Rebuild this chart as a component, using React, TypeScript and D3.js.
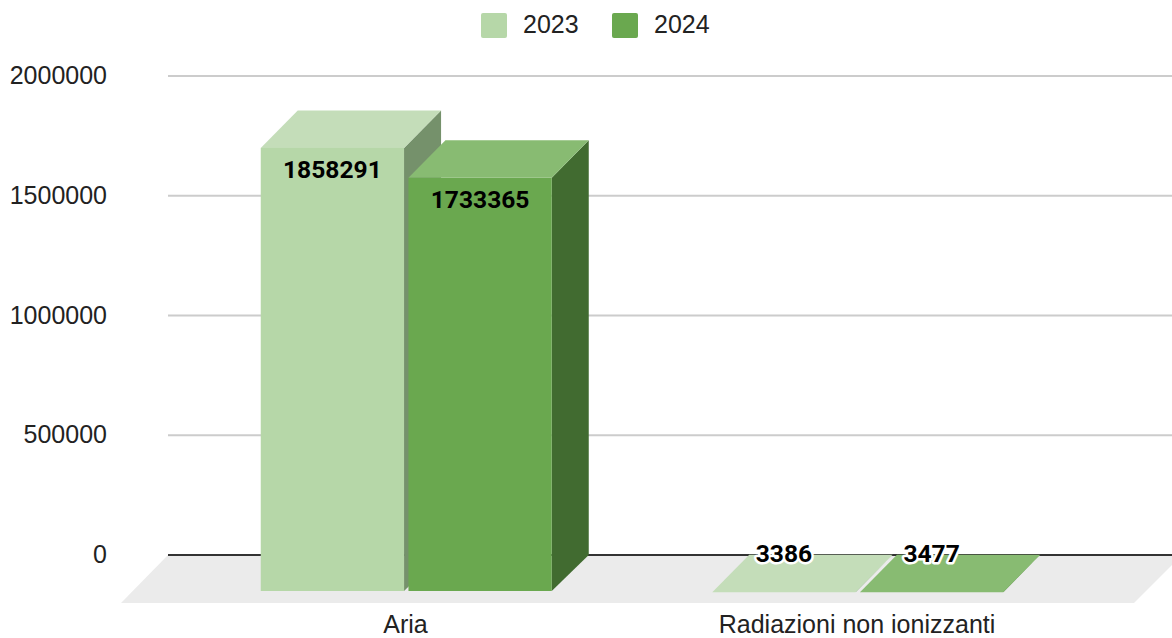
import React from "react";
import * as d3 from "d3";

const categories = ["Aria", "Radiazioni non ionizzanti"];
const seriesNames = ["2023", "2024"];
const values2023 = [1858291, 3386];
const values2024 = [1733365, 3477];
const yTicks = [0, 500000, 1000000, 1500000, 2000000];
const fronts = ["#b6d7a8", "#6aa84f"];
const tops = ["#c4ddb9", "#88bb72"];
const sides = ["#75916b", "#416b30"];

const W = 1172, H = 638;
const DEPTH = 37;
const sans = "'Liberation Sans', Arial, sans-serif";

export default function App() {
  const y = d3.scaleLinear().domain([0, 2000000]).range([555, 76]);
  const x0 = d3.scaleBand<string>().domain(categories).range([180.75, 1083.75]).paddingInner(0).paddingOuter(0);
  const x1 = d3.scaleBand<string>().domain(seriesNames).range([0, 291]).paddingInner(0.03).paddingOuter(0);
  const offset = 80;
  const all = [values2023, values2024];
  const bw = x1.bandwidth();

  return (
    <svg width={W} height={H} viewBox={`0 0 ${W} ${H}`} style={{ position: "absolute", left: 0, top: 0, background: "#fff" }}>
      {yTicks.filter((t) => t > 0).map((t) => (
        <line key={t} x1={168} x2={W} y1={y(t)} y2={y(t)} stroke="#cccccc" strokeWidth={1.8} />
      ))}
      <path d={`M168,${y(0)}L121,603L1134,603L${W},565L${W},${y(0)}Z`} fill="#ebebeb" />
      <line x1={168} x2={W} y1={y(0)} y2={y(0)} stroke="#333333" strokeWidth={2} />

      {yTicks.map((t) => (
        <text key={t} x={107} y={y(t) + 8} textAnchor="end" fontFamily={sans} fontSize={25} fill="#222222">{t}</text>
      ))}

      {categories.map((c) => {
        const base = (x0(c) as number) + offset;
        const ci = categories.indexOf(c);
        return (
          <g key={c}>
            {seriesNames.map((s, si) => {
              const xL = base + (x1(s) as number);
              const v = all[si][ci];
              const backTop = y(v) + 0.5, backBottom = y(0);
              const fTop = backTop + DEPTH + 0.5, fBottom = backBottom + DEPTH - 1;
              const xR = xL + bw;
              return (
                <g key={s}>
                  <path d={`M${xR},${fTop}L${xR + DEPTH},${backTop}L${xR + DEPTH},${backBottom}L${xR},${fBottom}Z`} fill={sides[si]} />
                  <path d={`M${xL},${fTop}L${xL + DEPTH},${backTop}L${xR + DEPTH},${backTop}L${xR},${fTop}Z`} fill={tops[si]} />
                  <rect x={xL} y={fTop} width={bw} height={Math.max(0, fBottom - fTop)} fill={fronts[si]} />
                </g>
              );
            })}
          </g>
        );
      })}

      {categories.map((c, ci) => {
        const base = (x0(c) as number) + offset;
        return seriesNames.map((s, si) => {
          const v = all[si][ci];
          const cx = base + (x1(s) as number) + bw / 2;
          const tall = y(0) - y(v) > 40;
          const ty = tall ? y(v) + DEPTH + 31 : y(v) + 8;
          return (
            <text key={s + c} x={cx} y={ty} textAnchor="middle" fontFamily="Roboto, sans-serif" fontWeight={700} fontSize={24.6}
              fill="#000" stroke={tall ? "none" : "#fff"} strokeWidth={tall ? 0 : 5} strokeLinejoin="round" paintOrder="stroke">{v}</text>
          );
        });
      })}

      {categories.map((c) => (
        <text key={c} x={(x0(c) as number) + x0.bandwidth() / 2 - 1} y={632.5} textAnchor="middle" fontFamily={sans} fontSize={25} fill="#222222">{c}</text>
      ))}

      {seriesNames.map((s, i) => {
        const lx = [481, 612][i];
        return (
          <g key={s}>
            <rect x={lx} y={13} width={26} height={25} rx={2} fill={fronts[i]} />
            <text x={lx + 42} y={33} fontFamily={sans} fontSize={25} fill="#222222">{s}</text>
          </g>
        );
      })}
    </svg>
  );
}
